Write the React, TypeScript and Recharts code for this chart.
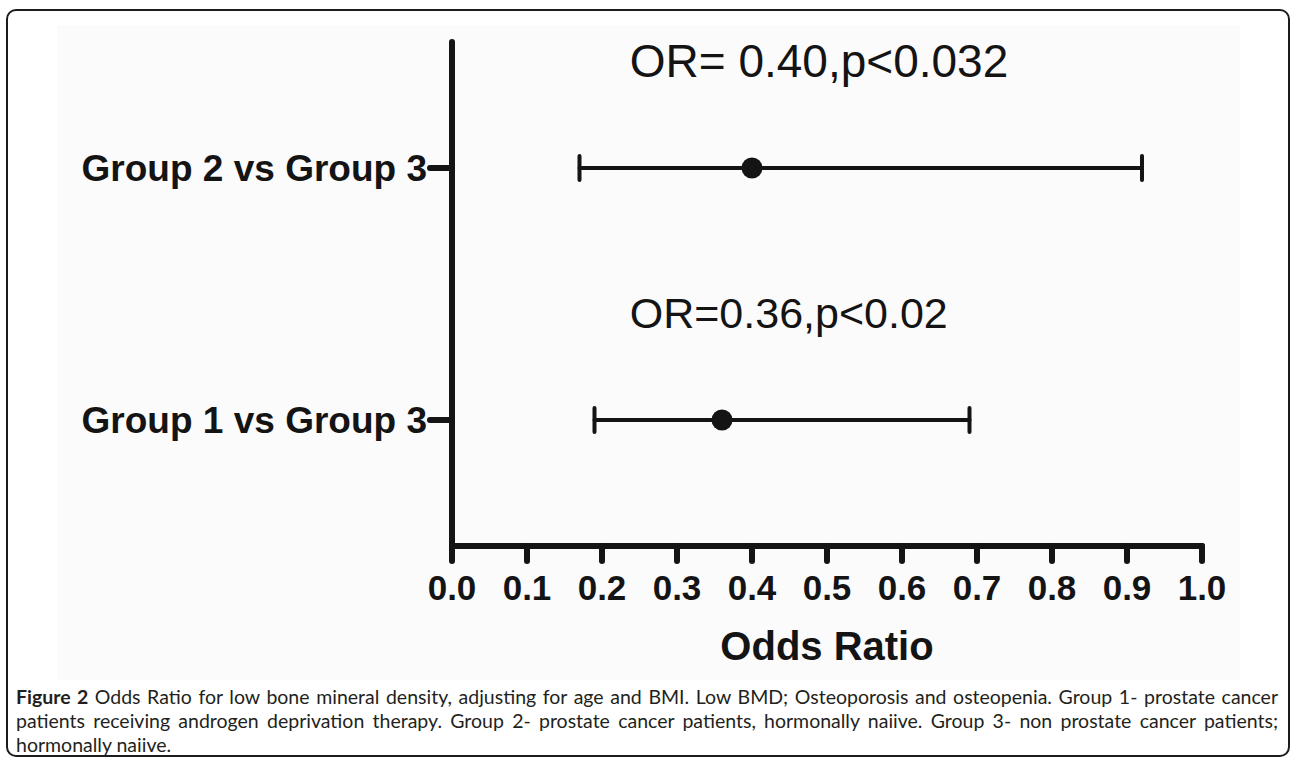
import React from "react";
import { ScatterChart, Scatter, XAxis, YAxis, ErrorBar, ReferenceDot } from "recharts";

// comparisons, top to bottom
const comparisons = ["Group 2 vs Group 3", "Group 1 vs Group 3"];
const oddsRatios = [0.4, 0.36];
const ciLower = [0.17, 0.19];
const ciUpper = [0.92, 0.69];
const annotations = ["OR= 0.40,p<0.032", "OR=0.36,p<0.02"];
const xTicks = [0, 0.1, 0.2, 0.3, 0.4, 0.5, 0.6, 0.7, 0.8, 0.9, 1.0];

const captionLines = [
  "Odds Ratio for low bone mineral density, adjusting for age and BMI. Low BMD; Osteoporosis and osteopenia. Group 1- prostate cancer",
  "patients receiving androgen deprivation therapy. Group 2- prostate cancer patients, hormonally naiive. Group 3- non prostate cancer patients;",
  "hormonally naiive.",
];

const rows = comparisons.map((name, i) => ({
  name,
  or: oddsRatios[i],
  ci: [oddsRatios[i] - ciLower[i], ciUpper[i] - oddsRatios[i]],
}));

const INK = "#141414";
const FONT = "'Liberation Sans', Arial, sans-serif";
const ANNOT_X = 0.237;

const Dot = (props: any) => <circle cx={props.cx} cy={props.cy} r={10.5} fill={INK} />;

function Annotation({ viewBox, text, size }: any) {
  if (!viewBox) return null;
  return (
    <text
      x={viewBox.x}
      y={viewBox.y - 107}
      textAnchor="start"
      dominantBaseline="central"
      fontFamily={FONT}
      fontSize={size}
      fill={INK}
    >
      {text}
    </text>
  );
}

export default function App() {
  return (
    <div style={{ position: "absolute", left: 0, top: 0, width: 1292, height: 761, background: "#fff" }}>
      <div
        style={{
          position: "absolute",
          left: 6,
          top: 9,
          width: 1284,
          height: 748,
          boxSizing: "border-box",
          border: "2px solid #1c1c1c",
          borderRadius: 10,
        }}
      />
      <div style={{ position: "absolute", left: 57, top: 25, width: 1183, height: 655, background: "#fbfbfb" }} />
      <div style={{ position: "absolute", left: 0, top: 0 }}>
        <ScatterChart width={1292} height={680} margin={{ top: 42, right: 90, bottom: 0, left: 0 }}>
          <XAxis
            type="number"
            dataKey="or"
            domain={[0, 1]}
            ticks={xTicks}
            interval={0}
            height={134}
            tickFormatter={(v: number) => v.toFixed(1)}
            tick={{ fill: INK, fontSize: 35, fontWeight: 700, fontFamily: FONT }}
            tickSize={15}
            tickMargin={14}
            axisLine={{ stroke: INK, strokeWidth: 6, strokeLinecap: "round" }}
            tickLine={{ stroke: INK, strokeWidth: 6, strokeLinecap: "round" }}
            label={{
              value: "Odds Ratio",
              position: "insideBottom",
              offset: 20,
              fill: INK,
              fontSize: 40,
              fontWeight: 700,
              fontFamily: FONT,
            }}
          />
          <YAxis
            type="category"
            dataKey="name"
            reversed
            width={452}
            tick={{ fill: INK, fontSize: 37, fontWeight: 700, fontFamily: FONT }}
            tickSize={22}
            tickMargin={3}
            axisLine={{ stroke: INK, strokeWidth: 6, strokeLinecap: "round" }}
            tickLine={{ stroke: INK, strokeWidth: 6, strokeLinecap: "round" }}
          />
          <Scatter data={rows} shape={<Dot />} isAnimationActive={false}>
            <ErrorBar dataKey="ci" direction="x" width={12} stroke={INK} strokeWidth={4} strokeLinecap="round" />
          </Scatter>
          {comparisons.map((name, i) => (
            <ReferenceDot
              key={name}
              x={ANNOT_X}
              y={name}
              r={0}
              fill="none"
              stroke="none"
              label={<Annotation text={annotations[i]} size={i === 0 ? 46 : 43} />}
            />
          ))}
        </ScatterChart>
      </div>
      <div
        style={{
          position: "absolute",
          left: 16,
          top: 685,
          width: 1262,
          fontFamily: "Lato, 'Open Sans', sans-serif",
          fontSize: 19.5,
          lineHeight: "24px",
          color: "#231f20",
        }}
      >
        {captionLines.map((line, i) => (
          <div
            key={i}
            style={{
              textAlign: "justify",
              textAlignLast: i < captionLines.length - 1 ? "justify" : "left",
            }}
          >
            {i === 0 && <b>Figure 2 </b>}
            {line}
          </div>
        ))}
      </div>
    </div>
  );
}
